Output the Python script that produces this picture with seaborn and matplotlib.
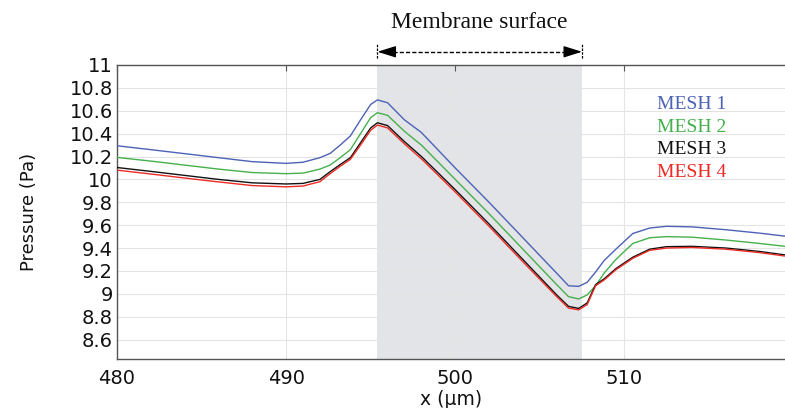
import numpy as np
import pandas as pd
import matplotlib
matplotlib.use("Agg")
import matplotlib.pyplot as plt
import seaborn as sns

# ── Data ───────────────────────────────────────────────────────────────────────
X_UM = [480, 482, 484, 486, 488, 490, 491, 492, 492.6, 493.2, 493.8, 494.4,
        495, 495.4, 496, 497, 498, 500, 502, 504, 506, 506.7, 507.3, 507.8,
        508.3, 508.8, 509.5, 510.5, 511.5, 512.5, 514, 516, 518, 519.5]

MESH_1 = [10.294, 10.26, 10.225, 10.19, 10.155, 10.14, 10.15, 10.19, 10.227, 10.30,
          10.38, 10.52, 10.655, 10.695, 10.67, 10.52, 10.41, 10.10, 9.80, 9.49,
          9.18, 9.07, 9.065, 9.10, 9.19, 9.29, 9.39, 9.527, 9.575, 9.59,
          9.585, 9.56, 9.53, 9.504]
MESH_2 = [10.192, 10.16, 10.125, 10.09, 10.06, 10.05, 10.055, 10.09, 10.125, 10.19,
          10.26, 10.40, 10.54, 10.583, 10.56, 10.42, 10.30, 10.0, 9.70, 9.39,
          9.08, 8.975, 8.955, 8.99, 9.07, 9.18, 9.30, 9.44, 9.49, 9.50,
          9.495, 9.47, 9.44, 9.415]
MESH_3 = [10.104, 10.07, 10.035, 10.0, 9.97, 9.96, 9.965, 10.0, 10.067, 10.13,
          10.19, 10.32, 10.45, 10.495, 10.47, 10.33, 10.20, 9.91, 9.61, 9.30,
          8.99, 8.89, 8.872, 8.92, 9.08, 9.13, 9.22, 9.32, 9.39, 9.412,
          9.415, 9.40, 9.37, 9.34]
MESH_4 = [10.081, 10.047, 10.012, 9.978, 9.946, 9.935, 9.942, 9.98, 10.05, 10.115,
          10.175, 10.30, 10.43, 10.475, 10.45, 10.31, 10.18, 9.89, 9.59, 9.28,
          8.975, 8.875, 8.86, 8.905, 9.07, 9.12, 9.21, 9.31, 9.38, 9.40,
          9.405, 9.39, 9.36, 9.33]

SERIES = ["MESH 1", "MESH 2", "MESH 3", "MESH 4"]
PALETTE = {"MESH 1": "#4c62b6", "MESH 2": "#45b04c",
           "MESH 3": "#111111", "MESH 4": "#ec2b25"}

Y_TICKS = [8.6, 8.8, 9.0, 9.2, 9.4, 9.6, 9.8, 10.0, 10.2, 10.4, 10.6, 10.8, 11.0]
Y_TICK_LABELS = ["8.6", "8.8", "9", "9.2", "9.4", "9.6", "9.8", "10",
                 "10.2", "10.4", "10.6", "10.8", "11"]
X_TICKS = [480, 490, 500, 510]

MEMBRANE = (495.4, 507.5)

# ── Long table for seaborn ─────────────────────────────────────────────────────
df = pd.concat(
    [pd.DataFrame({"x": X_UM, "p": vals, "mesh": name})
     for name, vals in zip(SERIES, [MESH_1, MESH_2, MESH_3, MESH_4])],
    ignore_index=True,
)

# ── Canvas ─────────────────────────────────────────────────────────────────────
sns.set_style("white")
plt.rcParams["font.family"] = ["DejaVu Sans"]

fig = plt.figure(figsize=(7.85, 4.08), dpi=100)
ax = fig.add_axes([117 / 785, 49 / 408, 668 / 785, 294 / 408])

ax.axvspan(*MEMBRANE, color="#e3e4e7", lw=0, zorder=0.2)

sns.lineplot(data=df, x="x", y="p", hue="mesh", hue_order=SERIES,
             palette=PALETTE, estimator=None, sort=False, legend=False,
             linewidth=1.0, ax=ax, zorder=3)

ax.set_xlim(480, 519.5)
ax.set_ylim(8.43, 11.0)
ax.set_xticks(X_TICKS)
ax.set_yticks(Y_TICKS)
ax.set_yticklabels(Y_TICK_LABELS)

ax.set_axisbelow(True)
ax.grid(True, color="#e4e4e4", linewidth=0.8)

for side in ["left", "bottom", "top"]:
    ax.spines[side].set_color("#555555")
    ax.spines[side].set_linewidth(1.0)
ax.spines["right"].set_visible(False)

ax.tick_params(axis="both", direction="in", length=4, width=0.8,
               color="#555555", labelsize=14, labelcolor="#111111")
ax.tick_params(axis="x", pad=7.5, top=True)
ax.tick_params(axis="y", pad=3)

ax.set_xlabel("x (µm)", fontsize=13.5, color="#111111")
ax.set_ylabel("Pressure (Pa)", fontsize=13, color="#111111")
ax.xaxis.set_label_coords(0.5, -0.104)
ax.yaxis.set_label_coords(-0.118, 0.5)

# ── Series labels (coloured text, no handles) ──────────────────────────────────
label_y = [0.864, 0.789, 0.711, 0.633]
for name, yy in zip(SERIES, label_y):
    ax.text(0.808, yy, name, transform=ax.transAxes, color=PALETTE[name],
            fontsize=14, family="Liberation Serif", va="center", ha="left")

# ── Membrane surface marker above the axes ─────────────────────────────────────
tr = ax.get_xaxis_transform()
y_arrow = 1.045
ax.plot([MEMBRANE[0] + 0.9, MEMBRANE[1] - 0.9], [y_arrow, y_arrow],
        transform=tr, clip_on=False, color="black", lw=1.0,
        linestyle=(0, (3, 1.5)))
for x0, x1 in [(MEMBRANE[0] + 1.0, MEMBRANE[0]), (MEMBRANE[1] - 1.0, MEMBRANE[1])]:
    ax.annotate("", xy=(x1, y_arrow), xytext=(x0, y_arrow),
                xycoords=tr, textcoords=tr, annotation_clip=False,
                arrowprops=dict(arrowstyle="-|>,head_length=0.8,head_width=0.25",
                                color="black", lw=1.0, mutation_scale=14,
                                shrinkA=0, shrinkB=0))
    ax.plot([x1, x1], [1.0255, 1.0735], transform=tr, clip_on=False,
            color="black", lw=0.9, linestyle=(0, (2, 1)))

fig.text(479 / 785, 1 - 23 / 408, "Membrane surface", ha="center", va="center",
         fontsize=17, family="Liberation Serif", color="#111111")

plt.savefig("out.png", dpi=100)
